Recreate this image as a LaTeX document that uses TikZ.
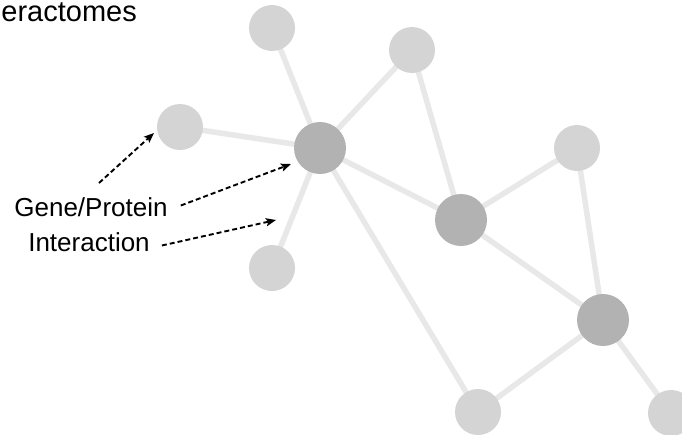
\documentclass[tikz,border=0pt]{standalone}
\usepackage{fontspec}
\setmainfont{Liberation Sans}
\usetikzlibrary{arrows.meta,backgrounds}
\begin{document}
\begin{tikzpicture}[x=1pt,y=-1pt,
  lightnode/.style={circle,fill=nodelight,draw=none,minimum size=46pt,inner sep=0pt},
  darknode/.style={circle,fill=nodedark,draw=none,minimum size=52pt,inner sep=0pt},
  link/.style={draw=linkgray,line width=5.5pt},
  pointer/.style={draw=black,line width=1.9pt,dash pattern=on 5pt off 3pt,
    -{Stealth[length=10pt,width=8pt,inset=2pt]}},
  label/.style={font=\fontsize{26}{31}\selectfont,inner sep=0pt,anchor=base}]
\definecolor{nodelight}{HTML}{D4D4D4}
\definecolor{nodedark}{HTML}{B2B2B2}
\definecolor{linkgray}{HTML}{E8E8E8}
\useasboundingbox (0,0) rectangle (682,434);
\clip (0,0) rectangle (682,434);

% title, running off the left edge
\node[label,anchor=base east,font=\fontsize{29}{34}\selectfont] (title) at (137,21.5) {eractomes};

% interactome nodes
\node[lightnode] (a) at (272,28) {};
\node[lightnode] (b) at (412,50) {};
\node[darknode]  (c) at (320,148) {};
\node[lightnode] (d) at (180,127) {};
\node[lightnode] (e) at (272,268) {};
\node[darknode]  (f) at (461,220) {};
\node[lightnode] (g) at (577,148) {};
\node[darknode]  (h) at (603,320) {};
\node[lightnode] (i) at (478,412) {};
\node[lightnode] (j) at (671,413) {};

% interactions, kept behind the nodes
\begin{scope}[on background layer]
\path[link] (a.center) -- (c.center);
\path[link] (b.center) -- (c.center);
\path[link] (b.center) -- (f.center);
\path[link] (d.center) -- (c.center);
\path[link] (c.center) -- (e.center);
\path[link] (c.center) -- (f.center);
\path[link] (c.center) -- (i.center);
\path[link] (f.center) -- (g.center);
\path[link] (g.center) -- (h.center);
\path[link] (f.center) -- (h.center);
\path[link] (h.center) -- (i.center);
\path[link] (h.center) -- (j.center);
\end{scope}

% labels and pointers
\node[label] (gene) at (91,216.5) {Gene/Protein};
\node[label] (inter) at (89,251.5) {Interaction};
\coordinate (genetail) at (99,183);
\coordinate (nodetip) at (154,133);
\coordinate (genetip) at (291,164);
\coordinate (intertip) at (276,220);
\draw[pointer] (genetail) -- (nodetip);
\draw[pointer] ([xshift=13pt,yshift=11pt]gene.base east) -- (genetip);
\draw[pointer] ([xshift=12pt,yshift=6pt]inter.base east) -- (intertip);
\end{tikzpicture}
\end{document}
